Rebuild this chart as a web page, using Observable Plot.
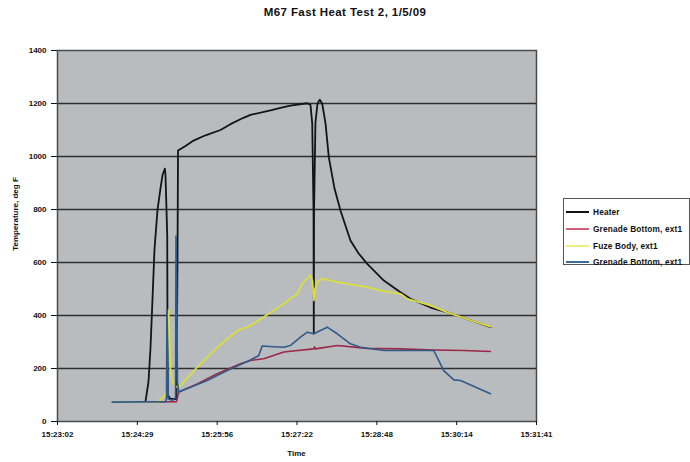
<!DOCTYPE html>
<html>
<head>
<meta charset="utf-8">
<script src="https://cdn.jsdelivr.net/npm/d3@7"></script>
<script src="https://cdn.jsdelivr.net/npm/@observablehq/plot@0.6"></script>
<style>
  body { margin: 0; background: #fff; font-family: "Liberation Sans", Arial, sans-serif; }
  #wrap { position: relative; width: 690px; height: 462px; overflow: hidden; }
  #title { position: absolute; left: 0; top: 6px; width: 690px; text-align: center; font-weight: bold; font-size: 11.5px; letter-spacing: 0.4px; color: #111; }
  #ylab { position: absolute; left: 15px; top: 214px; transform: translate(-50%, -50%) rotate(-90deg); white-space: nowrap; font-weight: bold; font-size: 8px; color: #111; }
  #xlab { position: absolute; left: 0; width: 593px; top: 449px; text-align: center; font-weight: bold; font-size: 8px; color: #111; }
  #legend { position: absolute; left: 563px; top: 198px; width: 127px; height: 67px; border: 1px solid #555; box-sizing: border-box; background: #fff; }
  .row { position: absolute; left: 2px; height: 12px; display: flex; align-items: center; font-weight: bold; font-size: 8.3px; letter-spacing: 0.15px; color: #111; white-space: nowrap; }
  .sw { display: inline-block; width: 23px; height: 2px; margin-right: 4px; }
</style>
</head>
<body>
<div id="wrap">
  <div id="chart"></div>
  <div id="title"></div>
  <div id="ylab"></div>
  <div id="xlab"></div>
  <div id="legend"></div>
</div>
<script>
// ---- Data (time = seconds after 15:23:02, temperature in deg F) ----
const chartTitle = "M67 Fast Heat Test 2, 1/5/09";
const yTitle = "Temperature, deg F";
const xTitle = "Time";
const seriesNames = ["Heater", "Grenade Bottom, ext1", "Fuze Body, ext1", "Grenade Bottom, ext1"];
const seriesColors = ["#141414", "#9a2846", "#dadd3e", "#2f5a8c"];
const legendColors = ["#141414", "#d2607a", "#eeee80", "#3a6aa0"];

const timeTickLabels = ["15:23:02", "15:24:29", "15:25:56", "15:27:22", "15:28:48", "15:30:14", "15:31:41"];
const timeTickSeconds = [0, 86.5, 173, 259.5, 346, 432.5, 519];
const tempTicks = [0, 200, 400, 600, 800, 1000, 1200, 1400];

const heaterSec = [59.6, 95.3, 98.6, 100.8, 102.9, 105.1, 108.4, 111.6, 113.8, 116.3, 117.0, 118.1, 118.9, 119.2, 119.5, 122.4, 128.9, 130.0, 130.6, 138.7, 147.4, 160.4, 176.6, 187.4, 201.5, 209.1, 230.8, 244.9, 252.5, 270.6, 274.1, 276.0, 277.4, 277.7, 278.0, 279.5, 281.7, 284.2, 286.8, 290.4, 294.0, 300.1, 306.6, 317.4, 326.1, 335.6, 353.6, 371.6, 382.5, 404.2, 422.2, 447.5, 469.1];
const heaterTemp = [73, 75, 150, 280, 460, 650, 800, 880, 930, 954, 930, 800, 700, 300, 100, 85, 85, 600, 1023, 1040, 1060, 1080, 1100, 1122, 1146, 1157, 1174, 1186, 1192, 1201, 1195, 1125, 800, 332, 800, 1130, 1200, 1214, 1200, 1125, 997, 880, 796, 683, 635, 595, 532, 488, 463, 430, 412, 382, 356];

const grenadeRedSec = [59.6, 128.9, 131.4, 151.4, 173.0, 198.3, 209.1, 223.5, 245.2, 252.5, 277.7, 278.5, 279.5, 303.1, 335.6, 371.6, 407.7, 440.2, 469.1];
const grenadeRedTemp = [73, 75, 111, 142, 180, 218, 230, 237, 262, 265, 274, 282, 274, 287, 276, 274, 270, 268, 264];

const fuzeSec = [59.6, 109.4, 114.9, 118.1, 119.2, 120.3, 121.3, 122.4, 124.6, 128.9, 131.4, 151.4, 173.0, 194.7, 209.1, 223.5, 245.2, 259.7, 265.1, 274.1, 276.3, 277.7, 279.0, 281.4, 286.8, 303.1, 335.6, 350.0, 371.6, 378.9, 404.2, 422.2, 447.5, 469.1];
const fuzeTemp = [73, 75, 95, 110, 250, 420, 330, 190, 150, 130, 130, 205, 280, 343, 362, 394, 444, 482, 520, 551, 530, 457, 500, 526, 539, 526, 507, 494, 482, 463, 438, 412, 382, 358];

const grenadeBlueSec = [59.6, 117.0, 118.1, 118.6, 119.3, 119.8, 124.6, 127.9, 128.4, 129.5, 130.0, 131.4, 162.2, 183.9, 209.1, 218.1, 221.8, 234.4, 245.2, 252.5, 263.3, 270.6, 277.7, 292.2, 303.1, 317.4, 328.3, 353.6, 407.7, 413.1, 418.5, 429.4, 436.7, 469.1];
const grenadeBlueTemp = [73, 75, 90, 420, 300, 85, 80, 90, 700, 400, 150, 111, 155, 192, 232, 249, 285, 282, 280, 287, 318, 337, 331, 356, 331, 293, 280, 268, 268, 230, 192, 157, 155, 105];

// ---- Build tables ----
const toRows = (sec, temp) => sec.map((t, i) => ({t, v: temp[i]}));
const heater = toRows(heaterSec, heaterTemp);
const grenadeRed = toRows(grenadeRedSec, grenadeRedTemp);
const fuze = toRows(fuzeSec, fuzeTemp);
const grenadeBlue = toRows(grenadeBlueSec, grenadeBlueTemp);

const chart = Plot.plot({
  width: 690,
  height: 462,
  marginLeft: 57,
  marginRight: 154,
  marginTop: 50,
  marginBottom: 41,
  style: {fontFamily: "'Liberation Sans', Arial, sans-serif", fontSize: "8px", color: "#111", background: "transparent"},
  x: {domain: [0, 519]},
  y: {domain: [0, 1400]},
  marks: [
    Plot.frame({fill: "#b9bcbf"}),
    Plot.gridY(tempTicks.slice(1, -1), {stroke: "#2e2e2e", strokeOpacity: 1, strokeWidth: 1.3}),
    Plot.line(heater, {x: "t", y: "v", stroke: seriesColors[0], strokeWidth: 1.8}),
    Plot.line(grenadeRed, {x: "t", y: "v", stroke: seriesColors[1], strokeWidth: 1.6}),
    Plot.line(fuze, {x: "t", y: "v", stroke: seriesColors[2], strokeWidth: 1.8}),
    Plot.line(grenadeBlue, {x: "t", y: "v", stroke: seriesColors[3], strokeWidth: 1.6}),
    Plot.frame({stroke: "#4a4a4a", strokeWidth: 1.5}),
    Plot.axisY(tempTicks, {tickSize: 6, tickPadding: 5, label: null, fontWeight: "bold", tickFormat: d => String(d)}),
    Plot.axisX(timeTickSeconds, {tickSize: 4, tickPadding: 6, label: null, fontWeight: "bold",
      tickFormat: d => timeTickLabels[timeTickSeconds.indexOf(d)]})
  ]
});
document.getElementById("chart").appendChild(chart);

document.getElementById("title").textContent = chartTitle;
document.getElementById("ylab").textContent = yTitle;
document.getElementById("xlab").textContent = xTitle;

const legend = document.getElementById("legend");
const rowTops = [7, 24, 41, 57];
seriesNames.forEach((name, i) => {
  const row = document.createElement("div");
  row.className = "row";
  row.style.top = rowTops[i] + "px";
  const sw = document.createElement("span");
  sw.className = "sw";
  sw.style.background = legendColors[i];
  row.appendChild(sw);
  row.appendChild(document.createTextNode(name));
  legend.appendChild(row);
});
</script>
</body>
</html>
